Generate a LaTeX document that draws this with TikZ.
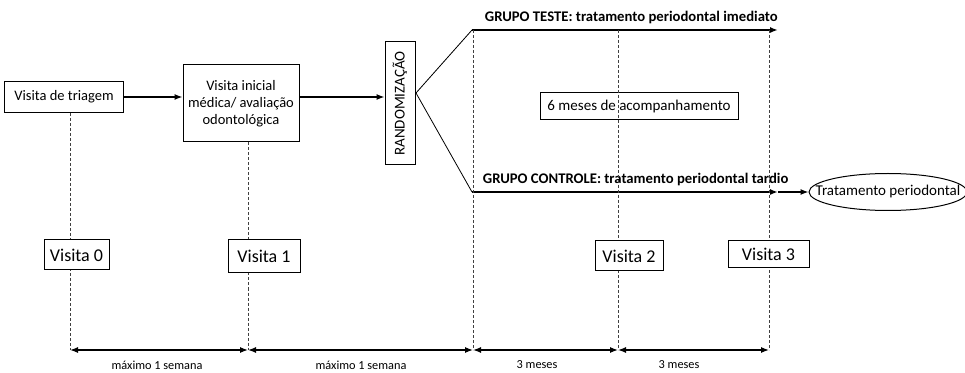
\documentclass[tikz,border=0pt]{standalone}
\usepackage{fontspec}
\setmainfont{Carlito}
\usepackage{tikz}
\usetikzlibrary{positioning,arrows.meta,calc,shapes.geometric}
\tikzset{every picture/.style={>={Latex[length=8pt,width=6pt]},line width=1.3pt}}
\tikzset{visit lines/.style={line width=0.8pt,densely dashed,black!75}}
\tikzset{box/.style={draw,line width=1pt,fill=white,inner sep=1pt,align=center,font=\fontsize{14.5}{17}\selectfont}}
\tikzset{visitbox/.style={draw,line width=1pt,fill=white,inner sep=1pt,font=\fontsize{18}{20}\selectfont}}
\tikzset{group label/.style={font=\bfseries\fontsize{14.7}{17}\selectfont}}
\tikzset{span label/.style={font=\fontsize{12.3}{14}\selectfont}}

\begin{document}
\begin{tikzpicture}[x=1pt,y=1pt]
      \useasboundingbox (0,0) rectangle (965,372);
      % boxes of the first visits
      \node [box,minimum width=119,minimum height=31] (triagem) at (64,275) {Visita de triagem};
      \node [box,minimum width=116,minimum height=77] (inicial) at (241,268.5) {Visita inicial\\médica/ avaliação\\odontológica};
      \node [box,rotate=90,minimum width=123,minimum height=30,font=\fontsize{15}{17}\selectfont] (rand) at (400,268.5) {RANDOMIZAÇÃO};
      \draw[->] (triagem.east) -- (triagem.east -| inicial.west);
      \draw[->] (inicial.east |- triagem.east) -- (rand.north |- triagem.east);
      % the two groups
      \coordinate (fan) at (416,279);
      \coordinate (teste) at (472,342);
      \coordinate (controle) at (472,180);
      \coordinate (v2top) at (618,342);
      \coordinate (v3top) at (769,342);
      \draw[line width=0.8pt] (fan) -- (teste);
      \draw[line width=0.8pt] (fan) -- (controle);
      \draw[->,line width=2.6pt] (teste) -- (778,342) coordinate (testeend);
      \draw[->,line width=2.6pt] (controle) -- (778,180) coordinate (controleend);
      \node [group label,anchor=base west] (testelabel) at (481,350) {GRUPO TESTE: tratamento periodontal imediato};
      \node [group label,anchor=base west] (controlelabel) at (479,188) {GRUPO CONTROLE: tratamento periodontal tardio};
      \node [ellipse,draw,line width=1pt,minimum width=158,minimum height=37,inner xsep=-17pt,inner ysep=0pt,font=\fontsize{15}{17}\selectfont] (tratamento) at (888,180) {Tratamento periodontal};
      \draw[->] (controleend) -- (tratamento.west);
      \node [box,minimum width=198,minimum height=27,font=\fontsize{15}{17}\selectfont] (acomp) at (639,265.5) {6 meses de acompanhamento};
      % time lines
      \coordinate (t0) at (70,22);
      \coordinate (t1) at (248,22);
      \coordinate (t2) at (473,22);
      \coordinate (t3) at (618,22);
      \coordinate (t4) at (769,22);
      \draw [visit lines] (triagem.south -| t0) -- (t0);
      \draw [visit lines] (inicial.south -| t1) -- (t1);
      \draw [visit lines] (teste -| t2) -- (t2);
      \draw [visit lines] (v2top) -- (t3);
      \draw [visit lines] (v3top) -- (t4);
      \node [visitbox,minimum width=65,minimum height=30] (visita0) at (76.5,117) {Visita 0};
      \node [visitbox,minimum width=72,minimum height=33] (visita1) at (264,115.5) {Visita 1};
      \node [visitbox,minimum width=68,minimum height=30] (visita2) at (629,116) {Visita 2};
      \node [visitbox,minimum width=81,minimum height=27] (visita3) at (768.5,117.5) {Visita 3};
      \draw[<->] (t0) -- (t1);
      \draw[<->] (t1) -- (t2);
      \draw[<->] (t2) -- (t3);
      \draw[<->] (t3) -- (t4);
      \node [span label] (span1) at (157,7) {máximo 1 semana};
      \node [span label] (span2) at (361,7) {máximo 1 semana};
      \node [span label] (span3) at (537,7) {3 meses};
      \node [span label] (span4) at (679,7) {3 meses};
    \end{tikzpicture}
\end{document}
